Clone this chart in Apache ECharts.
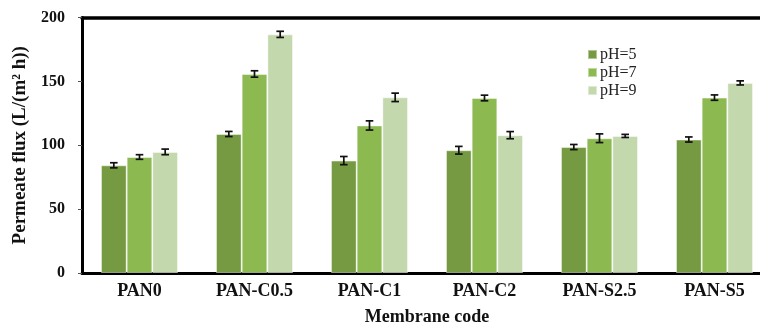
<!DOCTYPE html>
<html>
<head>
<meta charset="utf-8">
<script src="https://cdn.jsdelivr.net/npm/echarts@6/dist/echarts.min.js"></script>
<style>
  html, body { margin: 0; padding: 0; background: #fff; }
  #chart { width: 760px; height: 325px; }
</style>
</head>
<body>
<div id="chart"></div>
<script>
// Membrane codes on the category axis
const categories = ['PAN0', 'PAN-C0.5', 'PAN-C1', 'PAN-C2', 'PAN-S2.5', 'PAN-S5'];
const seriesNames = ['pH=5', 'pH=7', 'pH=9'];

// Permeate flux, L/(m² h)
const fluxPH5 = [84.3, 108.8, 88.0, 96.1, 98.6, 104.5];
const fluxPH7 = [90.8, 155.8, 115.5, 137.0, 105.5, 137.3];
const fluxPH9 = [94.8, 186.8, 137.5, 107.9, 107.3, 148.8];

// Standard deviations for the error bars
const errPH5 = [2.0, 2.0, 3.2, 3.0, 2.0, 2.0];
const errPH7 = [1.8, 2.5, 3.6, 2.2, 3.4, 2.1];
const errPH9 = [2.2, 2.4, 3.3, 2.8, 1.2, 1.6];

// Y axis ticks
const yMin = 0, yMax = 200, yStep = 50;

const fluxSets = [fluxPH5, fluxPH7, fluxPH9];
const errSets = [errPH5, errPH7, errPH9];
const colors = ['#769A41', '#8CBA51', '#C3D9AD'];
const serif = '"Liberation Serif", "Times New Roman", serif';
const groupShare = 0.67; // fraction of each category band used by the bar group

const chart = echarts.init(document.getElementById('chart'), null, { renderer: 'canvas' });

const barSeries = seriesNames.map((name, i) => ({
  name: name,
  type: 'bar',
  xAxisIndex: 0,
  data: fluxSets[i],
  barGap: '0%',
  barCategoryGap: '33%',
  itemStyle: { color: colors[i], borderColor: 'rgba(255,255,255,0.45)', borderWidth: 1 },
  z: 2
}));

// I-shaped error bars placed over each bar of a group
const errorSeries = seriesNames.map((name, i) => ({
  name: name + ' err',
  type: 'custom',
  xAxisIndex: 0,
  data: categories.map((c, k) => [k, fluxSets[i][k] - errSets[i][k], fluxSets[i][k] + errSets[i][k]]),
  renderItem: function (params, api) {
    const k = api.value(0);
    const low = api.coord([k, api.value(1)]);
    const high = api.coord([k, api.value(2)]);
    const band = api.size([1, 0])[0];
    const barW = band * groupShare / 3;
    const x = low[0] + (i - 1) * barW;
    const cap = 3.8;
    const style = { stroke: '#111', lineWidth: 1.7 };
    return {
      type: 'group',
      children: [
        { type: 'line', shape: { x1: x, y1: high[1], x2: x, y2: low[1] }, style: style },
        { type: 'line', shape: { x1: x - cap, y1: high[1], x2: x + cap, y2: high[1] }, style: style },
        { type: 'line', shape: { x1: x - cap, y1: low[1], x2: x + cap, y2: low[1] }, style: style }
      ]
    };
  },
  z: 5,
  silent: true
}));

chart.setOption({
  animation: false,
  backgroundColor: '#fff',
  grid: { left: 82, right: -12, top: 17.5, bottom: 52, outerBoundsMode: 'none', containLabel: false },
  legend: {
    data: seriesNames,
    orient: 'vertical',
    left: 582,
    top: 41,
    itemWidth: 9,
    itemHeight: 9,
    itemGap: 1,
    icon: 'rect',
    textStyle: { fontFamily: serif, fontSize: 16, color: '#222', padding: [0, 0, 0, -2], lineHeight: 17 }
  },
  xAxis: [
    {
      type: 'category',
      data: categories,
      position: 'bottom',
      name: 'Membrane code',
      nameLocation: 'middle',
      nameGap: 35,
      nameTextStyle: { fontFamily: serif, fontSize: 18, fontWeight: 'bold', color: '#111' },
      axisLine: { lineStyle: { color: '#000', width: 3 } },
      axisTick: { alignWithLabel: true, inside: true, length: 4, lineStyle: { color: '#999' } },
      axisLabel: { fontFamily: serif, fontSize: 18, fontWeight: 'bold', color: '#111', margin: 9 }
    },
    {
      type: 'category',
      data: categories,
      position: 'top',
      axisLine: { lineStyle: { color: '#000', width: 3.5 } },
      axisTick: { show: false },
      axisLabel: { show: false }
    }
  ],
  yAxis: {
    type: 'value',
    min: yMin,
    max: yMax,
    interval: yStep,
    name: 'Permeate flux (L/(m² h))',
    nameLocation: 'middle',
    nameGap: 52,
    nameTextStyle: { fontFamily: serif, fontSize: 19, fontWeight: 'bold', color: '#111' },
    axisLine: { show: true, lineStyle: { color: '#000', width: 3 } },
    axisTick: { show: true, length: 4, lineStyle: { color: '#555' } },
    axisLabel: { fontFamily: serif, fontSize: 16, fontWeight: 'bold', color: '#111', margin: 17 },
    splitLine: { show: false }
  },
  series: barSeries.concat(errorSeries)
});
</script>
</body>
</html>
